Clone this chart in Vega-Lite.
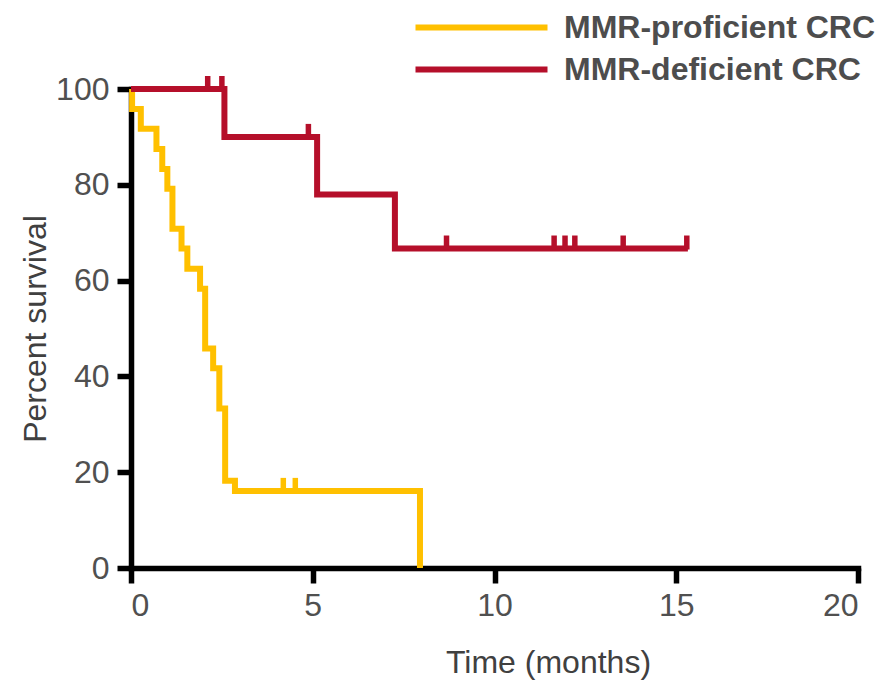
{
  "$schema": "https://vega.github.io/schema/vega-lite/v6.json",
  "autosize": {"type": "none"},
  "padding": {"left": 131, "top": 89, "right": 35, "bottom": 114},
  "width": 727,
  "height": 479,
  "background": "white",
  "config": {
    "view": {"stroke": null},
    "font": "Liberation Sans"
  },
  "datasets": {
    "curves": [
      {"group": "MMR-proficient CRC", "time": 0, "survival": 100},
      {"group": "MMR-proficient CRC", "time": 0.03, "survival": 95.8},
      {"group": "MMR-proficient CRC", "time": 0.27, "survival": 91.7},
      {"group": "MMR-proficient CRC", "time": 0.7, "survival": 87.5},
      {"group": "MMR-proficient CRC", "time": 0.86, "survival": 83.3},
      {"group": "MMR-proficient CRC", "time": 1.0, "survival": 79.2},
      {"group": "MMR-proficient CRC", "time": 1.14, "survival": 70.8},
      {"group": "MMR-proficient CRC", "time": 1.39, "survival": 66.7},
      {"group": "MMR-proficient CRC", "time": 1.55, "survival": 62.5},
      {"group": "MMR-proficient CRC", "time": 1.9, "survival": 58.3},
      {"group": "MMR-proficient CRC", "time": 2.04, "survival": 45.8},
      {"group": "MMR-proficient CRC", "time": 2.26, "survival": 41.7},
      {"group": "MMR-proficient CRC", "time": 2.43, "survival": 33.3},
      {"group": "MMR-proficient CRC", "time": 2.59, "survival": 18.2},
      {"group": "MMR-proficient CRC", "time": 2.86, "survival": 16.1},
      {"group": "MMR-proficient CRC", "time": 7.95, "survival": 0},
      {"group": "MMR-deficient CRC", "time": 0, "survival": 100},
      {"group": "MMR-deficient CRC", "time": 2.57, "survival": 90},
      {"group": "MMR-deficient CRC", "time": 5.12, "survival": 78},
      {"group": "MMR-deficient CRC", "time": 7.26, "survival": 66.7},
      {"group": "MMR-deficient CRC", "time": 15.32, "survival": 66.7}
    ],
    "censored": [
      {"group": "MMR-proficient CRC", "time": 4.19, "survival": 16.1},
      {"group": "MMR-proficient CRC", "time": 4.52, "survival": 16.1},
      {"group": "MMR-deficient CRC", "time": 2.11, "survival": 100},
      {"group": "MMR-deficient CRC", "time": 2.5, "survival": 100},
      {"group": "MMR-deficient CRC", "time": 4.88, "survival": 90},
      {"group": "MMR-deficient CRC", "time": 8.68, "survival": 66.7},
      {"group": "MMR-deficient CRC", "time": 11.64, "survival": 66.7},
      {"group": "MMR-deficient CRC", "time": 11.94, "survival": 66.7},
      {"group": "MMR-deficient CRC", "time": 12.21, "survival": 66.7},
      {"group": "MMR-deficient CRC", "time": 13.54, "survival": 66.7},
      {"group": "MMR-deficient CRC", "time": 15.29, "survival": 66.7}
    ]
  },
  "encoding": {
    "x": {
      "field": "time", "type": "quantitative",
      "scale": {"domain": [0, 20], "nice": false, "zero": true},
      "axis": {
        "title": "Time (months)",
        "values": [0, 5, 10, 15, 20],
        "grid": false,
        "domainColor": "black", "domainWidth": 5.5, "domainCap": "square",
        "tickColor": "black", "tickWidth": 5.5, "tickSize": 15,
        "labelFontSize": 32, "labelColor": "#505050", "labelPadding": 7,
        "titleFontSize": 32, "titleFontWeight": "normal", "titleColor": "#404040",
        "titleX": 417, "titleY": 104, "titleAlign": "center", "titleBaseline": "alphabetic"
      }
    },
    "y": {
      "field": "survival", "type": "quantitative",
      "scale": {"domain": [0, 100], "nice": false},
      "axis": {
        "title": "Percent survival",
        "values": [0, 20, 40, 60, 80, 100],
        "grid": false,
        "domainColor": "black", "domainWidth": 5.5, "domainCap": "square",
        "tickColor": "black", "tickWidth": 5.5, "tickSize": 14,
        "labelFontSize": 32, "labelColor": "#505050", "labelPadding": 8,
        "titleFontSize": 32, "titleFontWeight": "normal", "titleColor": "#404040",
        "titlePadding": 3
      }
    },
    "color": {
      "field": "group", "type": "nominal",
      "scale": {"domain": ["MMR-proficient CRC", "MMR-deficient CRC"], "range": ["#FFC000", "#B50F2A"]},
      "legend": {
        "orient": "none", "legendX": 334, "legendY": -78, "title": null,
        "symbolType": "M-5,0H5", "symbolSize": 697, "symbolStrokeWidth": 6,
        "labelFontSize": 32, "labelFontWeight": "bold", "labelColor": "#4d4d4d",
        "labelOffset": 66, "rowPadding": 9, "labelLimit": 400
      }
    }
  },
  "layer": [
    {
      "data": {"name": "curves"},
      "mark": {"type": "line", "interpolate": "step-after", "strokeWidth": 6, "strokeJoin": "miter", "strokeCap": "butt"}
    },
    {
      "data": {"name": "censored"},
      "mark": {"type": "tick", "orient": "vertical", "size": 14, "thickness": 5.5, "yOffset": -6, "opacity": 1}
    }
  ]
}
